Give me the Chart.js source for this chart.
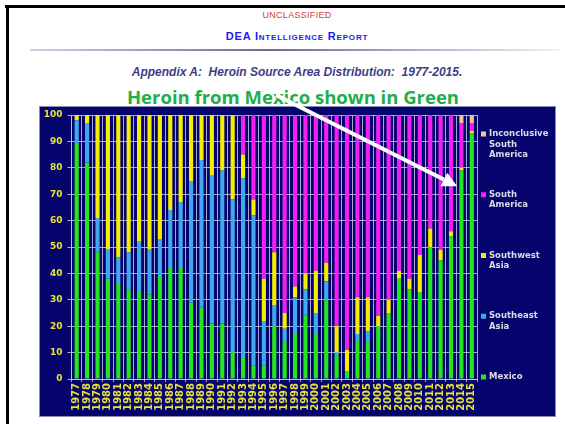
<!DOCTYPE html>
<html>
<head>
<meta charset="utf-8">
<script src="https://cdn.jsdelivr.net/npm/chart.js@4.4.1/dist/chart.umd.min.js"></script>
<style>
    html, body { margin: 0; padding: 0; background: #fff; }
    #page { position: relative; width: 565px; height: 424px; overflow: hidden; font-family: "Liberation Sans", Arial, sans-serif; }
    .frame-top { position: absolute; left: 5px; top: 5px; width: 560px; height: 3px; background: #000; }
    .frame-left { position: absolute; left: 6px; top: 5px; width: 3px; height: 419px; background: #000; }
    .line { position: absolute; left: 0; width: 594px; text-align: center; white-space: nowrap; }
    #unclassified { top: 10px; font-size: 9px; color: #d43a3a; letter-spacing: 0.3px; }
    #report { top: 30px; font-size: 11px; font-weight: bold; font-variant: small-caps; color: #1c1cf0; letter-spacing: 0.8px; }
    #divider { position: absolute; left: 30px; top: 49px; width: 530px; height: 2px;
        background: linear-gradient(to right, rgba(120,120,170,0.35), rgba(90,90,150,0.9) 45%, rgba(160,160,200,0.15)); }
    #appendix { top: 65px; font-size: 12px; font-weight: bold; font-style: italic; color: #3d3d85; }
    #headline { top: 84px; left: -4px; font-family: "Open Sans", sans-serif; font-size: 18.5px; font-weight: bold; color: #1fae4a; }
    #chart { position: absolute; left: 0; top: 0; }
</style>
</head>
<body>
<div id="page">
    <div class="frame-top"></div>
    <div class="frame-left"></div>
    <div class="line" id="unclassified">UNCLASSIFIED</div>
    <div class="line" id="report">DEA Intelligence Report</div>
    <div id="divider"></div>
    <div class="line" id="appendix">Appendix A:&nbsp; Heroin Source Area Distribution:&nbsp; 1977-2015.</div>
    <div class="line" id="headline">Heroin from Mexico shown in Green</div>
    <canvas id="chart" width="565" height="424"></canvas>
</div>
<script>
const years = ["1977", "1978", "1979", "1980", "1981", "1982", "1983", "1984", "1985", "1986",
    "1987", "1988", "1989", "1990", "1991", "1992", "1993", "1994", "1995", "1996",
    "1997", "1998", "1999", "2000", "2001", "2002", "2003", "2004", "2005", "2006",
    "2007", "2008", "2009", "2010", "2011", "2012", "2013", "2014", "2015"];

// percent of heroin by source area, per year
const mexico = [89, 82, 48, 38, 36, 34, 33, 32, 39, 42, 42, 29, 27, 21, 21, 10, 8, 5, 5, 20,
    14, 17, 24, 17, 30, 9, 3, 14, 14, 20, 25, 38, 34, 33, 50, 45, 54, 79, 93];
const southeast_asia = [9, 15, 13, 11, 10, 14, 19, 17, 14, 22, 25, 46, 56, 56, 58, 58, 68, 57, 17, 8,
    5, 14, 10, 8, 7, 1, 0, 3, 4, 0, 0, 0, 0, 0, 0, 0, 0, 0, 0];
const southwest_asia = [2, 3, 39, 51, 54, 52, 48, 51, 47, 36, 33, 25, 17, 23, 21, 32, 9, 6, 16, 20,
    6, 4, 6, 16, 7, 10, 8, 14, 13, 4, 5, 3, 4, 14, 7, 4, 2, 1, 1];
const south_america = [0, 0, 0, 0, 0, 0, 0, 0, 0, 0, 0, 0, 0, 0, 0, 0, 15, 32, 62, 52,
    75, 65, 60, 59, 56, 80, 89, 69, 69, 76, 70, 59, 62, 53, 43, 51, 44, 17, 3];
const inconclusive = [0, 0, 0, 0, 0, 0, 0, 0, 0, 0, 0, 0, 0, 0, 0, 0, 0, 0, 0, 0,
    0, 0, 0, 0, 0, 0, 0, 0, 0, 0, 0, 0, 0, 0, 0, 0, 0, 3, 3];

const y_ticks = [0, 10, 20, 30, 40, 50, 60, 70, 80, 90, 100];
const legend_lines = [["Mexico"], ["Southeast", "Asia"], ["Southwest", "Asia"], ["South", "America"], ["Inconclusive", "South", "America"]];

const tick_yellow = "#e8e23a";
const grid_color = "rgba(195,195,230,0.85)";

// navy panel behind the plot
const panel_plugin = {
    id: "panel",
    beforeDraw(chart) {
        const ctx = chart.ctx;
        ctx.save();
        ctx.fillStyle = "#04046c";
        ctx.fillRect(39, 106, 517, 311);
        ctx.strokeStyle = "rgba(170,170,200,0.8)";
        ctx.lineWidth = 1;
        ctx.strokeRect(39.5, 106.5, 516, 310);
        ctx.restore();
    }
};

// legend drawn on the right, spread over the plot height
const side_legend_plugin = {
    id: "sideLegend",
    afterDraw(chart) {
        const ctx = chart.ctx;
        const area = chart.chartArea;
        const first = area.bottom - 2;
        const last = area.top + 19;
        const step = (first - last) / (legend_lines.length - 1);
        ctx.save();
        ctx.font = "bold 8.5px 'DejaVu Sans'";
        ctx.textBaseline = "middle";
        chart.data.datasets.forEach((ds, i) => {
            const y = first - i * step;
            ctx.fillStyle = ds.backgroundColor;
            ctx.fillRect(area.right + 4, y - 2.5, 5, 5);
            ctx.fillStyle = "#dcdce8";
            legend_lines[i].forEach((txt, j) => {
                ctx.fillText(txt, area.right + 12, y + j * 10.5);
            });
        });
        ctx.restore();
    }
};

// white arrow from the headline down to the Mexico bars
const arrow_plugin = {
    id: "arrow",
    afterDraw(chart) {
        const ctx = chart.ctx;
        const x = chart.scales.x;
        const y = chart.scales.y;
        const tip_x = x.getPixelForValue(36.6);
        const tip_y = y.getPixelForValue(73);
        const start_x = 276, start_y = 95;
        const ang = Math.atan2(tip_y - start_y, tip_x - start_x);
        const head = 15, half = 7.5;
        const base_x = tip_x - head * Math.cos(ang);
        const base_y = tip_y - head * Math.sin(ang);
        ctx.save();
        ctx.strokeStyle = "#fff";
        ctx.fillStyle = "#fff";
        ctx.lineWidth = 4;
        ctx.beginPath();
        ctx.moveTo(start_x, start_y);
        ctx.lineTo(base_x, base_y);
        ctx.stroke();
        ctx.beginPath();
        ctx.moveTo(tip_x, tip_y);
        ctx.lineTo(base_x + half * Math.sin(ang), base_y - half * Math.cos(ang));
        ctx.lineTo(base_x - half * Math.sin(ang), base_y + half * Math.cos(ang));
        ctx.closePath();
        ctx.fill();
        ctx.restore();
    }
};

function bar_set(label, data, color) {
    return {
        label: label,
        data: data,
        backgroundColor: color,
        borderWidth: 0,
        barPercentage: 0.4,
        categoryPercentage: 1.0
    };
}

const chart = new Chart(document.getElementById("chart"), {
    type: "bar",
    data: {
        labels: years,
        datasets: [
            bar_set("Mexico", mexico, "#22e61e"),
            bar_set("Southeast Asia", southeast_asia, "#40a8f0"),
            bar_set("Southwest Asia", southwest_asia, "#f5ee00"),
            bar_set("South America", south_america, "#f020f0"),
            bar_set("Inconclusive South America", inconclusive, "#f4c29a")
        ]
    },
    options: {
        responsive: false,
        animation: false,
        layout: {
            padding: { left: 39, top: 115, right: 88, bottom: 7 }
        },
        scales: {
            x: {
                stacked: true,
                grid: { color: grid_color, tickLength: 3, offset: true },
                border: { color: grid_color },
                ticks: {
                    color: tick_yellow,
                    font: { family: "DejaVu Sans", weight: "bold", size: 10 },
                    minRotation: 90,
                    maxRotation: 90,
                    autoSkip: false,
                    padding: 1
                },
                afterFit(scale) { scale.height = 38; }
            },
            y: {
                stacked: true,
                min: 0,
                max: 100,
                afterBuildTicks(scale) { scale.ticks = y_ticks.map(v => ({ value: v })); },
                grid: { color: grid_color, tickLength: 4 },
                border: { color: grid_color },
                ticks: {
                    color: tick_yellow,
                    font: { family: "DejaVu Sans", weight: "bold", size: 9 },
                    padding: 5
                },
                afterFit(scale) { scale.width = 32.5; }
            }
        },
        plugins: {
            legend: { display: false },
            tooltip: { enabled: false }
        }
    },
    plugins: [panel_plugin, side_legend_plugin, arrow_plugin]
});
</script>
</body>
</html>
